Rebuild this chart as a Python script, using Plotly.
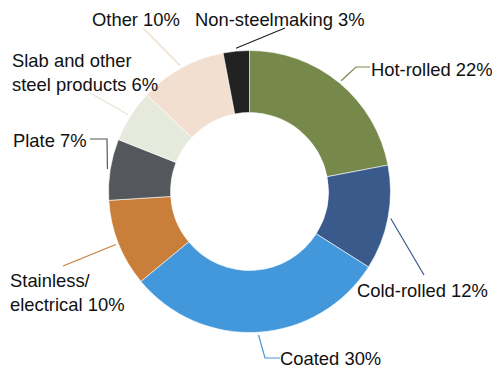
import math
import plotly.graph_objects as go

# ---- data ----
categories = ["Hot-rolled", "Cold-rolled", "Coated", "Stainless/electrical",
              "Plate", "Slab and other steel products", "Other", "Non-steelmaking"]
display_names = ["Hot-rolled", "Cold-rolled", "Coated", "Stainless/<br>electrical",
                 "Plate", "Slab and other<br>steel products", "Other", "Non-steelmaking"]
shares = [22, 12, 30, 10, 7, 6, 10, 3]
colors = ["#76894A", "#395A8A", "#4398DB", "#C97E3A",
          "#54575C", "#E6EADC", "#F2DFD0", "#222222"]

# page body has an 8px margin, so the figure is drawn 8px in from the corner
OFF = 8
W, H = 500 - OFF, 380 - OFF
CX, CY, R = 249.5, 191.5, 141  # window-pixel geometry of the donut


def P(px, py):
    return (px - OFF) / W, 1 - (py - OFF) / H


# label layout (window pixels): anchor point, xanchor, leader-line tail points
label_pos = [
    ((369, 70), "left", [(356, 67), (370, 67)]),
    ((355, 290), "left", [(424, 275)]),
    ((278, 358), "left", [(265, 358), (280, 358)]),
    ((8, 292), "left", [(63, 266)]),
    ((89, 140), "right", [(107, 139), (90, 139)]),
    ((10, 72), "left", [(90, 93)]),
    ((90, 20), "left", [(143, 28)]),
    ((193, 20), "left", [(285, 28)]),
]
line_colors = ["#76894A", "#395A8A", "#4398DB", "#C97E3A",
               "#54575C", "#E2E6D6", "#F0DCCB", "#222222"]

x0, y0 = P(CX - R, CY + R)
x1, y1 = P(CX + R, CY - R)

fig = go.Figure(go.Pie(
    labels=categories,
    values=shares,
    sort=False,
    direction="clockwise",
    rotation=0,
    hole=0.56,
    marker=dict(colors=colors, line=dict(color="white", width=0.6)),
    textinfo="none",
    hoverinfo="label+percent",
    showlegend=False,
    domain=dict(x=[x0, x1], y=[y0, y1]),
))

total = sum(shares)
cum = 0
annotations = []
shapes = []
for i, v in enumerate(shares):
    mid = (cum + v / 2) / total * 2 * math.pi
    cum += v
    sx = CX + 1.02 * R * math.sin(mid)
    sy = CY - 1.02 * R * math.cos(mid)
    (ax, ay), xanc, tail = label_pos[i]
    pts = [(sx, sy)] + tail
    path = ""
    for j, (px, py) in enumerate(pts):
        x, y = P(px, py)
        path += ("M" if j == 0 else " L") + f" {x:.5f},{y:.5f}"
    shapes.append(dict(type="path", xref="paper", yref="paper", path=path,
                       line=dict(color=line_colors[i], width=1.2)))
    x, y = P(ax, ay)
    annotations.append(dict(
        x=x, y=y, xref="paper", yref="paper", xanchor=xanc, yanchor="middle",
        text=f"{display_names[i]} {v}%", showarrow=False, align="left",
        font=dict(family="Arial, Liberation Sans, sans-serif", size=18.4, color="#111111"),
    ))

fig.update_layout(
    width=W, height=H,
    margin=dict(l=0, r=0, t=0, b=0),
    paper_bgcolor="white", plot_bgcolor="white",
    annotations=annotations, shapes=shapes,
)

fig.write_html("out.html")
